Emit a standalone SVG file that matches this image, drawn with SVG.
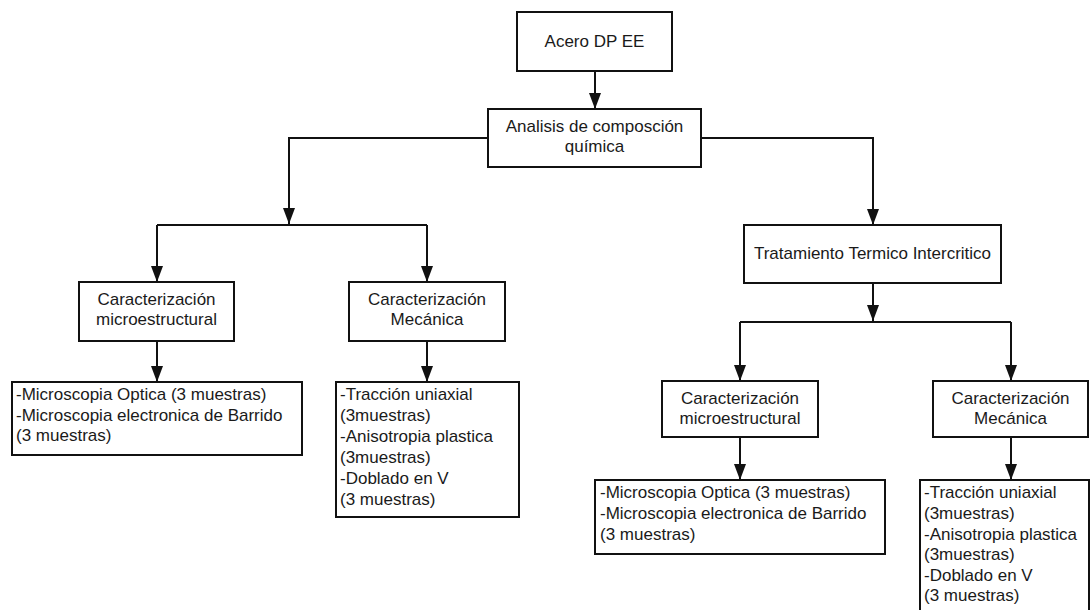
<svg xmlns="http://www.w3.org/2000/svg" width="1091" height="610" viewBox="0 0 1091 610">
  <style>
    .box { fill: #ffffff; stroke: #111111; stroke-width: 2; }
    .lbl { font-family: "Liberation Sans", Arial, sans-serif; font-size: 17px; fill: #1a1a1a; }
    .c { text-anchor: middle; }
    .wire { fill: none; stroke: #111111; stroke-width: 2; }
  </style>
  <defs>
    <marker id="arrow" viewBox="0 0 16 12" refX="16" refY="6" markerWidth="16" markerHeight="12" markerUnits="userSpaceOnUse" orient="auto">
      <path d="M0,0 L16,6 L0,12 z" fill="#111111"/>
    </marker>
  </defs>

  <rect width="1091" height="610" fill="#ffffff"/>

  <!-- connectors -->
  <g id="connectors">
    <path class="wire" d="M595,71 V109" marker-end="url(#arrow)"/>
    <path class="wire" d="M488,138 H289 V224" marker-end="url(#arrow)"/>
    <path class="wire" d="M157,225 H427"/>
    <path class="wire" d="M157,225 V282" marker-end="url(#arrow)"/>
    <path class="wire" d="M427,225 V282" marker-end="url(#arrow)"/>
    <path class="wire" d="M157,341 V382" marker-end="url(#arrow)"/>
    <path class="wire" d="M427,341 V382" marker-end="url(#arrow)"/>
    <path class="wire" d="M701,138 H873 V225" marker-end="url(#arrow)"/>
    <path class="wire" d="M873,283 V321" marker-end="url(#arrow)"/>
    <path class="wire" d="M740,322 H1011"/>
    <path class="wire" d="M740,322 V381" marker-end="url(#arrow)"/>
    <path class="wire" d="M1011,322 V381" marker-end="url(#arrow)"/>
    <path class="wire" d="M740,437 V480" marker-end="url(#arrow)"/>
    <path class="wire" d="M1011,437 V480" marker-end="url(#arrow)"/>
  </g>

  <g id="acero">
    <rect class="box" x="517" y="12" width="155" height="59"/>
    <text class="lbl c" x="594.5" y="47">Acero DP EE</text>
  </g>

  <g id="analisis">
    <rect class="box" x="488" y="109" width="213" height="58"/>
    <text class="lbl c" x="594.5" y="132">Analisis de composción</text>
    <text class="lbl c" x="594.5" y="152">química</text>
  </g>

  <g id="micro-base">
    <rect class="box" x="79" y="282" width="155" height="59"/>
    <text class="lbl c" x="156.5" y="305">Caracterización</text>
    <text class="lbl c" x="156.5" y="325">microestructural</text>
  </g>

  <g id="mec-base">
    <rect class="box" x="349" y="282" width="156" height="59"/>
    <text class="lbl c" x="427" y="305">Caracterización</text>
    <text class="lbl c" x="427" y="325">Mecánica</text>
  </g>

  <g id="ensayos-micro-base">
    <rect class="box" x="12" y="382" width="290" height="73"/>
    <text class="lbl" x="16" y="400">-Microscopia Optica (3 muestras)</text>
    <text class="lbl" x="16" y="420.5">-Microscopia electronica de Barrido</text>
    <text class="lbl" x="16" y="441">(3 muestras)</text>
  </g>

  <g id="ensayos-mec-base">
    <rect class="box" x="336" y="382" width="183" height="135"/>
    <text class="lbl" x="340" y="400">-Tracción uniaxial</text>
    <text class="lbl" x="340" y="421">(3muestras)</text>
    <text class="lbl" x="340" y="442">-Anisotropia plastica</text>
    <text class="lbl" x="340" y="463">(3muestras)</text>
    <text class="lbl" x="340" y="484">-Doblado en V</text>
    <text class="lbl" x="340" y="505">(3 muestras)</text>
  </g>

  <g id="tratamiento">
    <rect class="box" x="744" y="225" width="257" height="58"/>
    <text class="lbl c" x="872.5" y="259">Tratamiento Termico Intercritico</text>
  </g>

  <g id="micro-tratado">
    <rect class="box" x="662" y="381" width="156" height="56"/>
    <text class="lbl c" x="740" y="404">Caracterización</text>
    <text class="lbl c" x="740" y="424">microestructural</text>
  </g>

  <g id="mec-tratado">
    <rect class="box" x="933" y="381" width="155" height="56"/>
    <text class="lbl c" x="1010.5" y="404">Caracterización</text>
    <text class="lbl c" x="1010.5" y="424">Mecánica</text>
  </g>

  <g id="ensayos-micro-tratado">
    <rect class="box" x="595" y="480" width="290" height="74"/>
    <text class="lbl" x="600" y="498">-Microscopia Optica (3 muestras)</text>
    <text class="lbl" x="600" y="519">-Microscopia electronica de Barrido</text>
    <text class="lbl" x="600" y="540">(3 muestras)</text>
  </g>

  <g id="ensayos-mec-tratado">
    <rect class="box" x="920" y="480" width="169" height="134"/>
    <text class="lbl" x="924" y="498">-Tracción uniaxial</text>
    <text class="lbl" x="924" y="519">(3muestras)</text>
    <text class="lbl" x="924" y="539.5">-Anisotropia plastica</text>
    <text class="lbl" x="924" y="560">(3muestras)</text>
    <text class="lbl" x="924" y="580.5">-Doblado en V</text>
    <text class="lbl" x="924" y="601">(3 muestras)</text>
  </g>
</svg>
